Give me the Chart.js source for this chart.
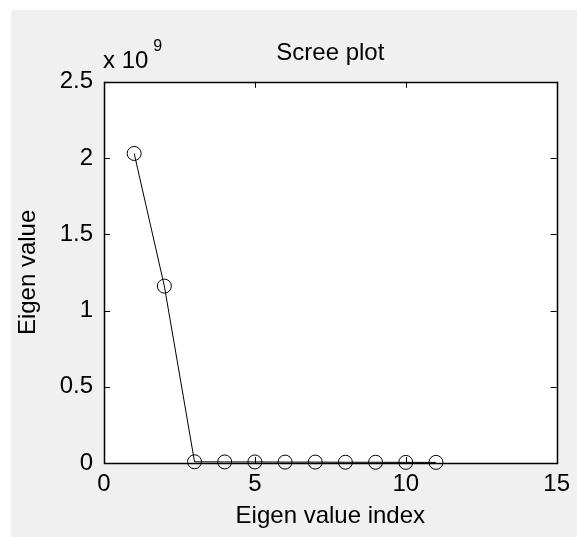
<!DOCTYPE html>
<html>
<head>
<meta charset="utf-8">
<title>Scree plot</title>
<script src="https://cdn.jsdelivr.net/npm/chart.js@4"></script>
<style>
  html, body { margin: 0; padding: 0; background: #fff; width: 577px; height: 537px; overflow: hidden; }
  #wrap { position: absolute; left: 11px; top: 10px; width: 566px; height: 527px; background: #f0f0f0; }
  canvas { display: block; }
</style>
</head>
<body>
<div id="wrap"><canvas id="screeChart" width="566" height="527"></canvas></div>
<script>
// Scree plot - eigenvalues (in units of 10^9) against their index

const eigenIndex = [1, 2, 3, 4, 5, 6, 7, 8, 9, 10, 11];
const eigenValues = [2.03, 1.16, 0.008, 0.007, 0.007, 0.006, 0.006, 0.005, 0.005, 0.004, 0.004];
const valueExponent = 9;

const xTickLabels = [0, 5, 10, 15];
const yTickLabels = [0, 0.5, 1, 1.5, 2, 2.5];

const FONT = "'Liberation Sans', Arial, sans-serif";

// White axes background
const plotBackground = {
  id: "plotBackground",
  beforeDatasetsDraw(chart) {
    const { ctx, chartArea: a } = chart;
    ctx.save();
    ctx.fillStyle = "#fff";
    ctx.fillRect(a.left, a.top, a.right - a.left, a.bottom - a.top);
    ctx.restore();
  }
};

// Axes box, inward ticks on all four sides and the x 10^n multiplier
const matlabBox = {
  id: "matlabBox",
  afterDatasetsDraw(chart) {
    const { ctx, chartArea: a, scales } = chart;
    const tickLen = 6;
    ctx.save();
    ctx.strokeStyle = "#000";
    ctx.lineWidth = 1;
    ctx.beginPath();
    scales.x.ticks.forEach(t => {
      const px = Math.round(scales.x.getPixelForValue(t.value)) + 0.5;
      ctx.moveTo(px, a.bottom);
      ctx.lineTo(px, a.bottom - tickLen);
      ctx.moveTo(px, a.top);
      ctx.lineTo(px, a.top + tickLen);
    });
    scales.y.ticks.forEach(t => {
      const py = Math.round(scales.y.getPixelForValue(t.value)) + 0.5;
      ctx.moveTo(a.left, py);
      ctx.lineTo(a.left + tickLen, py);
      ctx.moveTo(a.right, py);
      ctx.lineTo(a.right - tickLen, py);
    });
    ctx.stroke();
    ctx.lineWidth = 1.5;
    ctx.strokeRect(Math.round(a.left) + 0.5, Math.round(a.top) + 0.5,
      Math.round(a.right - a.left), Math.round(a.bottom - a.top));

    // exponent label above the y axis
    ctx.fillStyle = "#000";
    ctx.textAlign = "left";
    ctx.textBaseline = "alphabetic";
    ctx.font = "24px " + FONT;
    const base = "x 10";
    ctx.fillText(base, a.left - 1, a.top - 14);
    const w = ctx.measureText(base).width;
    ctx.font = "16px " + FONT;
    ctx.fillText(String(valueExponent), a.left - 1 + w + 5, a.top - 31);
    ctx.restore();
  }
};

const ctxScree = document.getElementById("screeChart").getContext("2d");
const screeChart = new Chart(ctxScree, {
  type: "line",
  data: {
    datasets: [{
      label: "Eigen value",
      data: eigenIndex.map((x, i) => ({ x: x, y: eigenValues[i] })),
      borderColor: "#000",
      borderWidth: 1,
      pointStyle: "circle",
      pointRadius: 7,
      pointBorderWidth: 1,
      pointBorderColor: "#000",
      pointBackgroundColor: "rgba(0,0,0,0)",
      tension: 0,
      clip: false
    }]
  },
  options: {
    responsive: false,
    animation: false,
    layout: { padding: { left: 0, right: 19, top: 0, bottom: 0 } },
    plugins: {
      legend: { display: false },
      tooltip: { enabled: false },
      title: {
        display: true,
        text: "Scree plot",
        fullSize: false,
        color: "#000",
        font: { family: FONT, size: 24, weight: "normal" },
        padding: { top: 29, bottom: 14 }
      }
    },
    scales: {
      x: {
        type: "linear",
        min: 0,
        max: 15,
        afterBuildTicks(scale) { scale.ticks = xTickLabels.map(v => ({ value: v })); },
        afterFit(scale) { scale.height = 74; },
        grid: { display: false, drawTicks: false },
        border: { display: false },
        ticks: {
          color: "#000", padding: 7, font: { family: FONT, size: 24 },
          callback: v => String(v)
        },
        title: {
          display: true,
          text: "Eigen value index",
          color: "#000",
          font: { family: FONT, size: 24 },
          padding: { top: 0, bottom: 6 }
        }
      },
      y: {
        type: "linear",
        min: 0,
        max: 2.5,
        afterBuildTicks(scale) { scale.ticks = yTickLabels.map(v => ({ value: v })); },
        afterFit(scale) { scale.width = 93; },
        grid: { display: false, drawTicks: false },
        border: { display: false },
        ticks: {
          color: "#000", padding: 11, font: { family: FONT, size: 24 },
          callback: v => String(v)
        },
        title: {
          display: true,
          text: "Eigen value",
          color: "#000",
          font: { family: FONT, size: 24 },
          padding: { top: 3, bottom: 0 }
        }
      }
    }
  },
  plugins: [plotBackground, matlabBox]
});
</script>
</body>
</html>
